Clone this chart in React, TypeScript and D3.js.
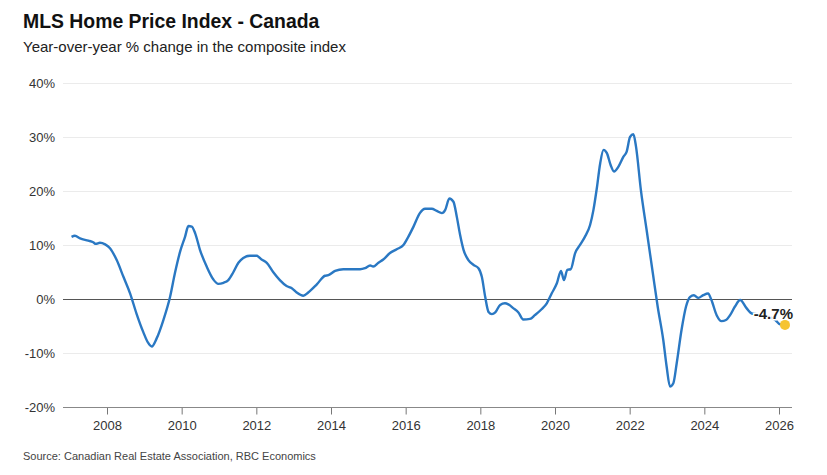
import React, { useEffect, useRef } from 'react';
import * as d3 from 'd3';

const dates: number[] = [
  2007.05, 2007.14, 2007.28, 2007.5, 2007.63, 2007.7, 2007.81, 2007.95,
  2008.08, 2008.26, 2008.44, 2008.62, 2008.79, 2008.97, 2009.1, 2009.2,
  2009.33, 2009.51, 2009.69, 2009.82, 2009.96, 2010.09, 2010.18, 2010.27,
  2010.36, 2010.49, 2010.67, 2010.85, 2010.98, 2011.12, 2011.25, 2011.38,
  2011.52, 2011.65, 2011.83, 2012.01, 2012.14, 2012.28, 2012.45, 2012.63,
  2012.81, 2012.95, 2013.08, 2013.26, 2013.39, 2013.62, 2013.84, 2013.93,
  2014.11, 2014.33, 2014.55, 2014.78, 2014.91, 2015.05, 2015.13, 2015.27,
  2015.4, 2015.58, 2015.76, 2015.94, 2016.07, 2016.21, 2016.38, 2016.52,
  2016.7, 2016.83, 2016.97, 2017.06, 2017.17, 2017.28, 2017.37, 2017.46,
  2017.55, 2017.68, 2017.82, 2017.95, 2018.04, 2018.13, 2018.22, 2018.31,
  2018.4, 2018.53, 2018.66, 2018.75, 2018.88, 2019.02, 2019.15, 2019.33,
  2019.46, 2019.64, 2019.78, 2019.91, 2020.05, 2020.16, 2020.24, 2020.33,
  2020.42, 2020.54, 2020.67, 2020.8, 2020.94, 2021.03, 2021.12, 2021.21,
  2021.3, 2021.39, 2021.49, 2021.58, 2021.7, 2021.83, 2021.92, 2022.01,
  2022.1, 2022.17, 2022.3, 2022.46, 2022.62, 2022.75, 2022.9, 2022.99,
  2023.08, 2023.17, 2023.26, 2023.39, 2023.51, 2023.62, 2023.72, 2023.84,
  2023.97, 2024.1, 2024.19, 2024.33, 2024.46, 2024.58, 2024.69, 2024.82,
  2024.96, 2025.13, 2025.27, 2025.4, 2025.58, 2025.76, 2025.9, 2026.03,
  2026.16,
];

const yoyChange: number[] = [
  11.6, 11.8, 11.3, 10.9, 10.6, 10.3, 10.5, 10.2,
  9.5, 7.3, 4.2, 1.1, -2.6, -6.0, -8.0, -8.7,
  -7.2, -3.8, 0.5, 4.9, 8.9, 11.6, 13.6, 13.5,
  12.3, 9.2, 6.1, 3.7, 2.9, 3.1, 3.6, 5.0,
  6.8, 7.7, 8.1, 8.1, 7.4, 6.8, 5.1, 3.6,
  2.5, 2.1, 1.3, 0.7, 1.3, 2.8, 4.4, 4.5,
  5.3, 5.6, 5.6, 5.6, 5.8, 6.3, 6.1, 6.8,
  7.4, 8.6, 9.3, 10.1, 11.6, 13.5, 16.0, 16.8,
  16.8, 16.4, 16.0, 16.6, 18.7, 18.1, 15.3, 11.9,
  9.2, 7.3, 6.4, 5.8, 4.2, 0.5, -2.3, -2.7,
  -2.4, -1.0, -0.7, -0.9, -1.6, -2.4, -3.7, -3.6,
  -2.9, -1.8, -0.7, 1.1, 3.0, 5.3, 3.6, 5.5,
  5.6, 8.6, 10.1, 11.6, 13.8, 16.6, 20.6, 25.2,
  27.7, 27.1, 24.9, 23.7, 24.6, 26.4, 27.4, 30.1,
  30.6, 28.3, 20.3, 12.6, 4.9, -1.3, -7.5, -12.4,
  -16.1, -15.5, -11.8, -5.6, -1.3, 0.5, 0.8, 0.3,
  0.8, 1.1, -0.1, -2.9, -4.0, -3.8, -2.9, -1.3,
  -0.1, -1.6, -2.6, -2.7, -2.9, -3.3, -3.8, -4.6,
  -4.7,
];

const yTicks: number[] = [-20, -10, 0, 10, 20, 30, 40];
const xTicks: number[] = [2008, 2010, 2012, 2014, 2016, 2018, 2020, 2022, 2024, 2026];

const WIDTH = 827;
const HEIGHT = 475;
const FONT = "'Liberation Sans', Arial, Helvetica, sans-serif";

const App: React.FC = () => {
  const chartRef = useRef<SVGSVGElement | null>(null);

  useEffect(() => {
    const svg = d3.select(chartRef.current);
    svg.selectAll('*').remove();

    const plotLeft = 63;
    const plotRight = 792;

    const x = d3.scaleLinear().domain([2008, 2026]).range([107, 779]);
    const y = d3.scaleLinear().domain([-20, 40]).range([407.5, 83.5]);

    svg.append('rect').attr('width', WIDTH).attr('height', HEIGHT).attr('fill', '#fff');

    // Title + subtitle
    svg
      .append('text')
      .attr('x', 23)
      .attr('y', 28)
      .attr('font-family', FONT)
      .attr('font-size', 19.4)
      .attr('font-weight', 'bold')
      .attr('fill', '#111')
      .text('MLS Home Price Index - Canada');

    svg
      .append('text')
      .attr('x', 23)
      .attr('y', 52)
      .attr('font-family', FONT)
      .attr('font-size', 15)
      .attr('fill', '#222')
      .text('Year-over-year % change in the composite index');

    // Gridlines
    svg
      .append('g')
      .selectAll('line')
      .data(yTicks.filter((t) => t !== 0 && t !== -20))
      .enter()
      .append('line')
      .attr('x1', plotLeft)
      .attr('x2', plotRight)
      .attr('y1', (d) => y(d))
      .attr('y2', (d) => y(d))
      .attr('stroke', '#ebebeb')
      .attr('stroke-width', 1.2);

    // Y labels
    svg
      .append('g')
      .selectAll('text')
      .data(yTicks)
      .enter()
      .append('text')
      .attr('x', 55)
      .attr('y', (d) => y(d))
      .attr('dy', '0.35em')
      .attr('text-anchor', 'end')
      .attr('font-family', FONT)
      .attr('font-size', 13)
      .attr('fill', '#333')
      .text((d) => `${d}%`);

    // Bottom axis
    const xAxis = d3
      .axisBottom(x)
      .tickValues(xTicks)
      .tickFormat(d3.format('d'))
      .tickSize(7)
      .tickSizeOuter(0);

    const axisG = svg
      .append('g')
      .attr('transform', `translate(0,${y(-20)})`)
      .call(xAxis);
    axisG.select('.domain').remove();
    axisG
      .append('line')
      .attr('x1', plotLeft)
      .attr('x2', plotRight)
      .attr('stroke', '#888')
      .attr('stroke-width', 1.2);
    axisG.selectAll('.tick line').attr('stroke', '#777');
    axisG
      .selectAll('.tick text')
      .attr('font-family', FONT)
      .attr('font-size', 13)
      .attr('fill', '#333')
      .attr('y', 13);

    // Zero line
    svg
      .append('line')
      .attr('x1', plotLeft)
      .attr('x2', plotRight)
      .attr('y1', y(0))
      .attr('y2', y(0))
      .attr('stroke', '#555')
      .attr('stroke-width', 1.1);

    // Series
    const points = dates.map((d, i) => [d, yoyChange[i]] as [number, number]);
    const line = d3
      .line<[number, number]>()
      .x((d) => x(d[0]))
      .y((d) => y(d[1]))
      .curve(d3.curveMonotoneX);

    svg
      .append('path')
      .datum(points)
      .attr('d', line)
      .attr('fill', 'none')
      .attr('stroke', '#2a78c3')
      .attr('stroke-width', 2.4)
      .attr('stroke-linejoin', 'round');

    // Last value marker + label
    const last = points[points.length - 1];
    svg
      .append('text')
      .attr('x', x(last[0]) + 8)
      .attr('y', y(last[1]) - 6)
      .attr('text-anchor', 'end')
      .attr('font-family', FONT)
      .attr('font-size', 15)
      .attr('font-weight', 'bold')
      .attr('fill', '#222')
      .attr('stroke', '#fff')
      .attr('stroke-width', 3)
      .attr('paint-order', 'stroke')
      .text(`${last[1].toFixed(1)}%`);

    svg
      .append('circle')
      .attr('cx', x(last[0]))
      .attr('cy', y(last[1]))
      .attr('r', 5)
      .attr('fill', '#f6c431');

    // Source
    svg
      .append('text')
      .attr('x', 23)
      .attr('y', 460)
      .attr('font-family', FONT)
      .attr('font-size', 11)
      .attr('fill', '#444')
      .text('Source: Canadian Real Estate Association, RBC Economics');
  }, []);

  return (
    <>
      <style>{'body{margin:0}'}</style>
      <svg ref={chartRef} width={WIDTH} height={HEIGHT} style={{ display: 'block' }}></svg>
    </>
  );
};

export default App;
